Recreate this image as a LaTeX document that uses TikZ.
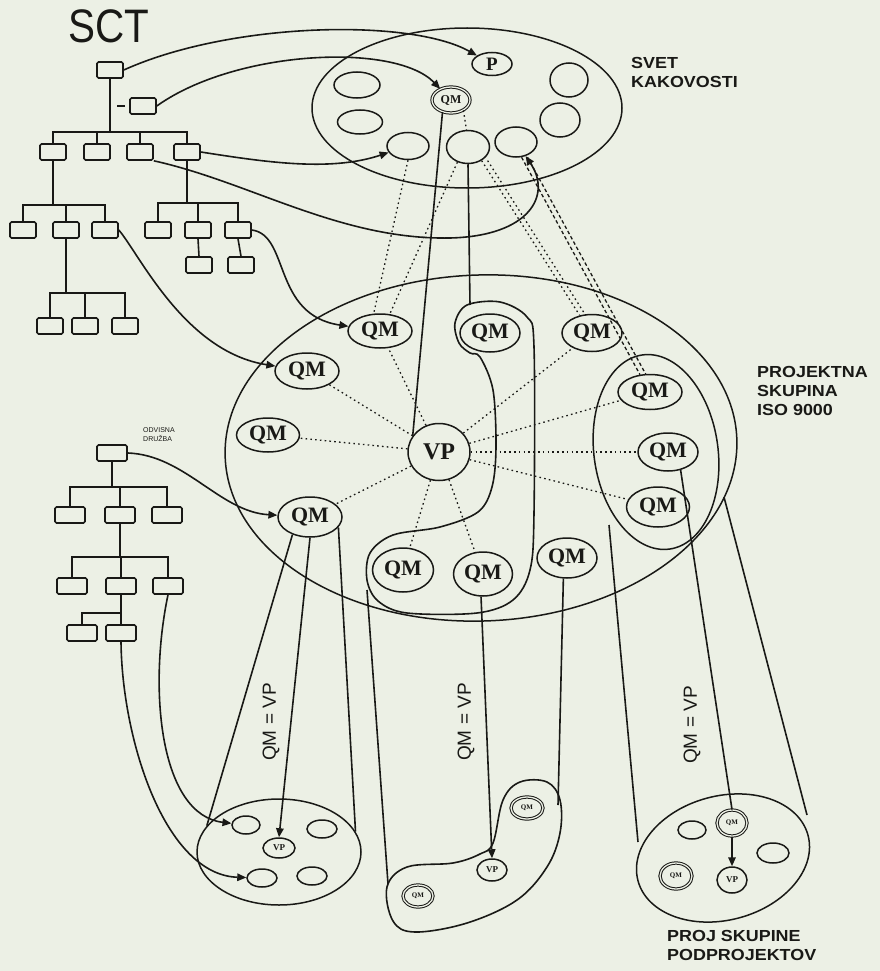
\documentclass[tikz,border=0pt]{standalone}
\usepackage{fontspec}
\setmainfont{Liberation Serif}
\newfontfamily\labfont{Liberation Sans}
\newfontfamily\labwide{Liberation Sans}[FakeStretch=1.12]
\newfontfamily\sctfont{Liberation Sans}[FakeStretch=0.86]
\usetikzlibrary{shapes.geometric,arrows.meta}
\definecolor{paper}{RGB}{236,240,229}
\definecolor{ink}{RGB}{25,25,22}
\begin{document}
\begin{tikzpicture}[x=1pt,y=-1pt,
  ln/.style={line width=1.6pt,draw=ink},
  bx/.style={draw=ink,line width=1.6pt,rounded corners=1.5pt,minimum width=26pt,minimum height=16pt,inner sep=0pt},
  obx/.style={bx,minimum width=30pt,minimum height=16pt},
  el/.style={draw=ink,ellipse,line width=1.5pt,inner sep=0pt},
  sz/.style 2 args={minimum width=#1pt,minimum height=#2pt},
  qm/.style={el,text=ink,font=\bfseries\fontsize{22}{22}\selectfont},
  sm/.style={el,text=ink,font=\bfseries\fontsize{7}{7}\selectfont},
  dbl/.style={double=paper,double distance=1.3pt,line width=1pt},
  arr/.style={ln,-{Triangle[length=9pt,width=7.5pt]}},
  dt/.style={line width=1.3pt,draw=ink,dash pattern=on 1.6pt off 3.2pt},
  ds/.style={line width=1.3pt,draw=ink,dash pattern=on 3.5pt off 2.5pt},
  lab/.style={text=ink,font=\labwide\bfseries\fontsize{16}{19}\selectfont,align=left,anchor=north west,inner sep=0pt},
  rot/.style={text=ink,rotate=90,font=\labfont\fontsize{19}{19}\selectfont,inner sep=0pt},
]
\useasboundingbox (0,0) rectangle (880,971);
\fill[paper] (0,0) rectangle (880,971);

% ---------------- SCT organisation chart
\node[text=ink,font=\sctfont\fontsize{47}{47}\selectfont,inner sep=0pt] (sct) at (109,26) {SCT};
\node[bx] (s0) at (110,70) {};
\node[bx] (s0b) at (143,106) {};
\draw[ln] ([xshift=-4pt]s0b.west) -- ++(-8,0);
\node[bx] (s1) at (53,152) {};
\node[bx] (s2) at (97,152) {};
\node[bx] (s3) at (140,152) {};
\node[bx] (s4) at (187,152) {};
\node[bx] (s11) at (23,230) {};
\node[bx] (s12) at (66,230) {};
\node[bx] (s13) at (105,230) {};
\node[bx] (s121) at (50,326) {};
\node[bx] (s122) at (85,326) {};
\node[bx] (s123) at (125,326) {};
\node[bx] (s41) at (158,230) {};
\node[bx] (s42) at (198,230) {};
\node[bx] (s43) at (238,230) {};
\node[bx] (s421) at (199,265) {};
\node[bx] (s431) at (241,265) {};
\draw[ln] (s0.south) -- (110,132);
\draw[ln] (s1.north) |- (110,132) -| (s4.north);
\draw[ln] (s2.north) -- (97,132);
\draw[ln] (s3.north) -- (140,132);
\draw[ln] (s1.south) -- (53,205);
\draw[ln] (s11.north) |- (53,205) -| (s13.north);
\draw[ln] (s12.north) -- (66,205);
\draw[ln] (s12.south) -- (66,293);
\draw[ln] (s121.north) |- (66,293) -| (s123.north);
\draw[ln] (s122.north) -- (85,293);
\draw[ln] (s4.south) -- (187,203);
\draw[ln] (s41.north) |- (187,203) -| (s43.north);
\draw[ln] (s42.north) -- (198,203);
\draw[ln] (s42.south) -- (s421.north);
\draw[ln] (s43.south) -- (s431.north);

% ---------------- ODVISNA DRUZBA chart
\node[text=ink,font=\labfont\fontsize{7}{9}\selectfont,align=left,anchor=north west,inner sep=0pt] (odl) at (143,427) {ODVISNA\\DRUŽBA};
\node[obx] (o0) at (112,453) {};
\node[obx] (o1) at (70,515) {};
\node[obx] (o2) at (120,515) {};
\node[obx] (o3) at (167,515) {};
\node[obx] (o21) at (72,586) {};
\node[obx] (o22) at (121,586) {};
\node[obx] (o23) at (168,586) {};
\node[obx] (o221) at (82,633) {};
\node[obx] (o222) at (121,633) {};
\draw[ln] (o0.south) -- (112,487);
\draw[ln] (o1.north) |- (112,487) -| (o3.north);
\draw[ln] (o2.north) -- (120,487);
\draw[ln] (o2.south) -- (120,557);
\draw[ln] (o21.north) |- (120,557) -| (o23.north);
\draw[ln] (o22.north) -- (121,557);
\draw[ln] (o22.south) -- (o222.north);
\draw[ln] (o221.north) |- (121,613);

% ---------------- SVET KAKOVOSTI
\node[el,sz={310}{160}] (svet) at (467,108) {};
\node[lab] (svl) at (631,57) {SVET\\KAKOVOSTI};
\node[qm,sz={40}{23},font=\bfseries\fontsize{19}{19}\selectfont] (p) at (492,64) {P};
\node[el,sz={38}{34}] (e1) at (569,80) {};
\node[el,sz={40}{34}] (e2) at (560,120) {};
\node[el,sz={46}{26}] (e6) at (357,85) {};
\node[el,sz={45}{24}] (e7) at (360,122) {};
\node[el,sz={42}{27}] (e3) at (408,146) {};
\node[el,sz={43}{33}] (e4) at (468,147) {};
\node[el,sz={42}{30}] (e5) at (516,142) {};
\node[qm,dbl,sz={38}{26},font=\bfseries\fontsize{12}{12}\selectfont] (qms) at (451,100) {QM};

% ---------------- PROJEKTNA SKUPINA ISO 9000
\node[el,sz={512}{346},rotate=2] (proj) at (481,448) {};
\node[lab] (prl) at (757,366) {PROJEKTNA\\SKUPINA\\ISO 9000};
\node[el,sz={124}{196},rotate=8] (rloop) at (656,452) {};
\draw[ln] plot[smooth cycle,tension=0.55] coordinates {(480,357) (493,390) (496,447) (492,487) (478,512) (440,527) (393,535) (370,553) (367,580) (378,601) (407,613) (477,613) (513,600) (530,570) (534,513) (534,347) (527,317) (500,302) (467,305) (455,323) (459,343) (470,353)};
\node[qm,sz={64}{34}] (qm1) at (380,331) {QM};
\node[qm,sz={64}{36}] (qm2) at (307,371) {QM};
\node[qm,sz={63}{34}] (qm3) at (268,435) {QM};
\node[qm,sz={64}{40}] (qm4) at (310,517) {QM};
\node[qm,sz={62}{57},font=\bfseries\fontsize{24}{24}\selectfont] (vp) at (439,452) {VP};
\node[qm,sz={60}{38}] (qm5) at (490,333) {QM};
\node[qm,sz={60}{37}] (qm6) at (592,333) {QM};
\node[qm,sz={64}{35}] (qm7) at (650,392) {QM};
\node[qm,sz={60}{38}] (qm8) at (668,452) {QM};
\node[qm,sz={63}{40}] (qm9) at (658,507) {QM};
\node[qm,sz={60}{40}] (qm10) at (567,558) {QM};
\node[qm,sz={61}{44}] (qm11) at (403,570) {QM};
\node[qm,sz={59}{44}] (qm12) at (483,574) {QM};

% spokes from VP
\foreach \t in {qm1,qm2,qm3,qm4,qm6,qm7,qm8,qm9,qm11,qm12}
  \draw[dt] (vp) -- (\t);

% ---------------- connectors from SCT
\draw[arr] (s0.east) .. controls (230,22) and (410,18) .. (p);
\draw[arr] (s0b.east) .. controls (235,50) and (395,42) .. (qms);
\draw[arr] (s4.east) .. controls (265,162) and (330,172) .. (e3);
\draw[arr] (s3.south east) .. controls (250,182) and (340,240) .. (450,238) .. controls (530,236) and (552,195) .. (e5);
\draw[arr] (s43.east) .. controls (290,235) and (272,315) .. (qm1);
\draw[arr] (s13.east) .. controls (140,255) and (185,352) .. (qm2);
\draw[arr] (o0.east) .. controls (185,455) and (220,512) .. (qm4);

% SVET -> project group
\draw[ln] (qms.235) -- (vp.148);
\draw[dt] (qms.-40) -- (e4.95);
\draw[ln] (e4.south) -- (470,305);
\draw[dt] (e3.south) -- (qm1.110);
\draw[dt] (e4.235) -- (qm1.60);
\draw[dt] (e4.-45) -- (qm6.125);
\draw[dt] ([xshift=6pt]e4.-45) -- ([xshift=6pt]qm6.125);
\draw[ds] (e5.-70) -- (qm7.120);
\draw[ds] ([xshift=6pt]e5.-70) -- ([xshift=6pt]qm7.120);

% ---------------- bottom-left group
\node[el,sz={164}{106}] (blc) at (279,852) {};
\node[el,sz={28}{18}] (bl1) at (246,825) {};
\node[el,sz={30}{18}] (bl2) at (322,829) {};
\node[sm,sz={32}{20},font=\bfseries\fontsize{9}{9}\selectfont] (blvp) at (279,848) {VP};
\node[el,sz={30}{18}] (bl3) at (262,878) {};
\node[el,sz={30}{18}] (bl4) at (312,876) {};
\draw[ln] (qm4.225) -- (blc.160);
\draw[ln] (qm4.-20) -- (blc.15);
\draw[arr] (qm4.south) -- (blvp.north);
\node[rot] (t1) at (271,722) {QM = VP};
\draw[arr] (o23.south) .. controls (148,690) and (160,815) .. (bl1);
\draw[arr] (o222.south) .. controls (122,740) and (165,875) .. (bl3);

% ---------------- middle group
\draw[ln] plot[smooth cycle,tension=0.6] coordinates {(387,887) (393,921) (415,932) (467,923) (517,900) (547,867) (560,833) (560,800) (547,782) (520,782) (503,800) (493,843) (480,854) (453,863) (407,867)};
\coordinate (jl) at (367,590);
\coordinate (mL) at (388,884);
\coordinate (mR) at (558,805);
\node[sm,dbl,sz={30}{22}] (mqm1) at (418,896) {QM};
\node[sm,sz={30}{22},font=\bfseries\fontsize{9}{9}\selectfont] (mvp) at (492,870) {VP};
\node[sm,dbl,sz={32}{22}] (mqm2) at (527,808) {QM};
\draw[ln] (jl) -- (mL);
\draw[ln] (qm10.-100) -- (mR);
\draw[arr] (qm12.-95) -- (mvp.north);
\node[rot] (t2) at (466,722) {QM = VP};

% ---------------- bottom-right group
\node[el,sz={176}{124},rotate=15] (brc) at (723,858) {};
\node[lab] (brl) at (667,930) {PROJ SKUPINE\\PODPROJEKTOV};
\coordinate (rlL) at (609,525);
\coordinate (rlR) at (724,497);
\coordinate (brL) at (638,842);
\coordinate (brR) at (807,815);
\node[el,sz={28}{18}] (bre1) at (692,830) {};
\node[sm,dbl,sz={30}{26}] (brqm) at (732,823) {QM};
\node[sm,sz={30}{26},font=\bfseries\fontsize{9}{9}\selectfont] (brvp) at (732,880) {VP};
\node[el,sz={32}{20}] (bre2) at (773,853) {};
\node[sm,dbl,sz={32}{26}] (brqm2) at (676,876) {QM};
\draw[ln] (rlL) -- (brL);
\draw[ln] (rlR) -- (brR);
\draw[ln] (qm8.-55) -- (brqm.north);
\draw[arr] (brqm.south) -- (brvp.north);
\node[rot] (t3) at (692,725) {QM = VP};
\end{tikzpicture}
\end{document}
